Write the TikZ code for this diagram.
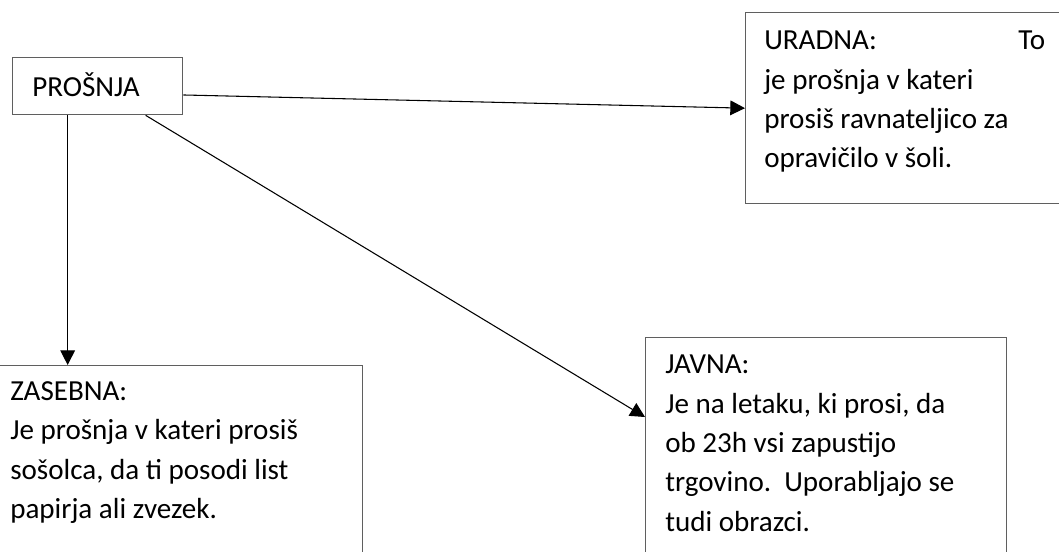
\documentclass[tikz,border=0pt]{standalone}
\usepackage{fontspec}
\setmainfont{Carlito}
\usetikzlibrary{arrows.meta}
\definecolor{boxgray}{RGB}{95,95,95}
\newcommand\tstrut{\rule{0pt}{22pt}}
\begin{document}
\begin{tikzpicture}[x=0.75pt,y=-0.75pt,
  box/.style={draw=boxgray, line width=1pt, rectangle, inner sep=0pt, anchor=north west},
  txt/.style={inner sep=0pt, anchor=north west, yshift=22pt, align=left,
    font=\fontsize{21.8}{29.6}\selectfont},
  conn/.style={draw=black, line width=0.8pt, -{Triangle[length=11pt,width=11pt]}}]
\useasboundingbox (0,0) rectangle (1059,551);
\clip (0,0) rectangle (1059,551);
% boxes
\node[box, minimum width=127.5pt, minimum height=42.75pt] (prosnja) at (12,57) {};
\node[box, minimum width=243.75pt, minimum height=143.25pt] (uradna) at (745,12) {};
\node[box, minimum width=279pt, minimum height=176.25pt] (zasebna) at (-10,365) {};
\node[box, minimum width=270.75pt, minimum height=197.25pt] (javna) at (645,337) {};
% texts
\node[txt] (prosnjatext) at (32,96.7) {\tstrut PROŠNJA};
\node[txt] (uradnatext) at (764,49.3) {\tstrut\hbox to 210.75pt{URADNA:\hfill To}\\je prošnja v kateri\\prosiš ravnateljico za\\opravičilo v šoli.};
\node[txt] (zasebnatext) at (10,400) {\tstrut ZASEBNA:\\Je prošnja v kateri prosiš\\sošolca, da ti posodi list\\papirja ali zvezek.};
\node[txt] (javnatext) at (665,373.3) {\tstrut JAVNA:\\Je na letaku, ki prosi, da\\ob 23h vsi zapustijo\\trgovino.\ \ Uporabljajo se\\tudi obrazci.};
% connectors
\draw[conn] ([shift={(0,8.8)}]prosnja.east) -- (uradna.west);
\draw[conn] ([shift={(-30,0)}]prosnja.south) -- ([shift={(-30,0)}]prosnja.south |- zasebna.north);
\draw[conn] ([shift={(48,0)}]prosnja.south) -- ([shift={(0,80)}]javna.north west);
\end{tikzpicture}
\end{document}
